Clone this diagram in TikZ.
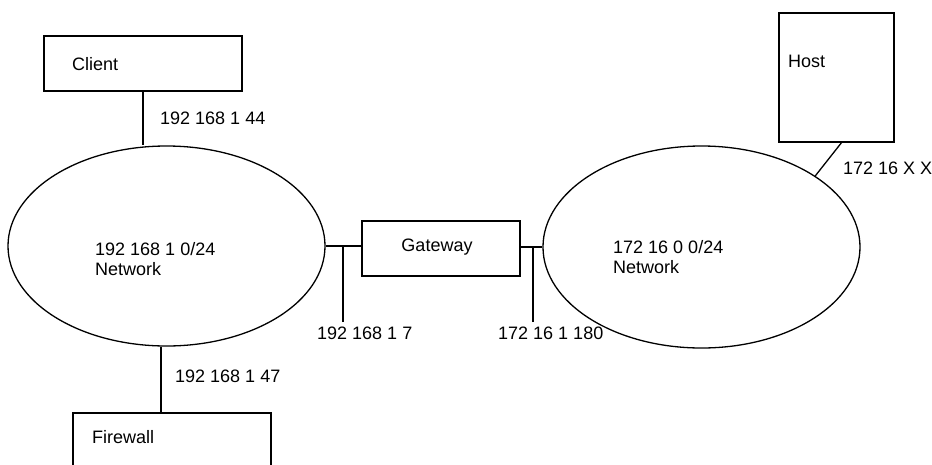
\documentclass[tikz,border=0pt]{standalone}
\usepackage{fontspec}
\setmainfont{Liberation Sans}
\usetikzlibrary{shapes.geometric}
\begin{document}
\begin{tikzpicture}[x=1pt,y=-1pt,
  every node/.style={font=\fontsize{18}{20}\selectfont},
  wire/.style={line width=1.3pt},
  boxshape/.style={draw,line width=1.3pt,rectangle,inner sep=0pt},
  netshape/.style={draw,line width=1.3pt,ellipse,inner sep=0pt},
  txt/.style={inner sep=0pt,anchor=west,align=left}]
\clip (0,0) rectangle (932,464);
\fill[white] (0,0) rectangle (932,464);
% boxes
\node[boxshape,minimum width=198pt,minimum height=55pt] (client) at (143,63.5) {};
\node[boxshape,minimum width=198pt,minimum height=80pt] (fw) at (172,453) {};
\node[boxshape,minimum width=158pt,minimum height=55pt] (gw) at (441,248.5) {};
\node[boxshape,minimum width=115pt,minimum height=129pt] (host) at (836.5,77.5) {};
% networks
\node[netshape,minimum width=317pt,minimum height=200pt] (ln) at (166.5,246) {};
\node[netshape,minimum width=317pt,minimum height=202pt] (rn) at (701.5,247) {};
% texts
\node[txt] (tclient) at (72,64) {Client};
\node[txt] (tfw) at (92,437) {Firewall};
\node[inner sep=0pt] (tgw) at (437,247) {Gateway};
\node[txt] (thost) at (788,61) {Host};
\node[txt] (tln) at (95,259) {192 168 1 0/24\\Network};
\node[txt] (trn) at (613,257) {172 16 0 0/24\\Network};
\node[txt] (a44) at (160,118) {192 168 1 44};
\node[txt] (a47) at (175,376) {192 168 1 47};
\node[txt] (a7) at (317,333) {192 168 1 7};
\node[txt] (a180) at (498,333) {172 16 1 180};
\node[txt] (axx) at (843,168) {172 16 X X};
% connectors
\coordinate (fwc) at (161,413);
\coordinate (t1) at (343,322);
\coordinate (t2) at (533,322);
\coordinate (hb) at (842,142);
\draw[wire] (client.south) -- (client.south |- ln.north);
\draw[wire] (fwc) -- (fwc |- ln.south);
\draw[wire] (ln.east) -- (gw.west |- ln.east);
\draw[wire] (gw.east |- rn.west) -- (rn.west);
\draw[wire] (t1) -- (t1 |- ln.east);
\draw[wire] (t2) -- (t2 |- rn.west);
\draw[wire] (hb) -- (rn.32.5);
\end{tikzpicture}
\end{document}
